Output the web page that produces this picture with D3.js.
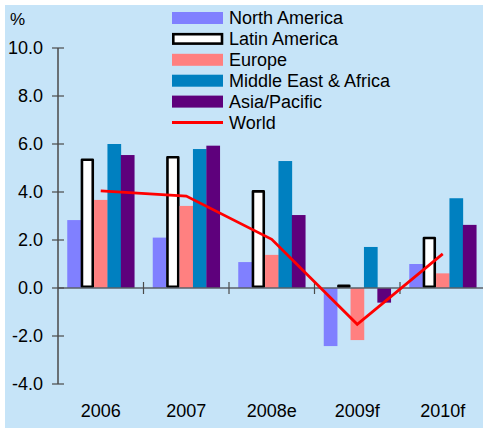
<!DOCTYPE html>
<html>
<head>
<meta charset="utf-8">
<script src="https://cdn.jsdelivr.net/npm/d3@7"></script>
<style>
  html, body { margin: 0; padding: 0; background: #ffffff; }
  svg { display: block; font-family: "Liberation Sans", Arial, Helvetica, sans-serif; }
</style>
</head>
<body>
<svg id="chart" width="483" height="428"></svg>
<script>
// Real GDP growth by region, %
const years = ["2006", "2007", "2008e", "2009f", "2010f"];
const regions = ["North America", "Latin America", "Europe", "Middle East & Africa", "Asia/Pacific"];
const northAmerica = [2.83, 2.1, 1.08, -2.42, 1.0];
const latinAmerica = [5.4, 5.5, 4.08, 0.15, 2.14];
const europe = [3.67, 3.42, 1.38, -2.17, 0.61];
const middleEastAfrica = [6.0, 5.79, 5.29, 1.71, 3.74];
const asiaPacific = [5.54, 5.93, 3.04, -0.61, 2.63];
const world = [4.05, 3.83, 2.03, -1.51, 1.42];
const yTicks = [-4, -2, 0, 2, 4, 6, 8, 10];

const seriesValues = [northAmerica, latinAmerica, europe, middleEastAfrica, asiaPacific];
const colors = ["#8080ff", "#ffffff", "#ff8080", "#0080c0", "#5e007c"];

const svg = d3.select("#chart");

// panel background
svg.append("rect").attr("x", 5).attr("y", 5).attr("width", 478).attr("height", 423)
  .attr("fill", "#c6e4f8");

const x0 = d3.scaleBand().domain(years).range([58, 485.5]).paddingInner(0).paddingOuter(0);
const y = d3.scaleLinear().domain([-4, 10]).range([384, 48]);
const groupWidth = 67;
const x1 = d3.scaleBand().domain(regions).range([0, groupWidth]);

// bars
const rows = [];
years.forEach((yr, i) => {
  regions.forEach((r, j) => rows.push({ year: yr, region: r, j: j, v: seriesValues[j][i] }));
});

const bars = svg.append("g");
bars.selectAll("rect").data(rows).enter().append("rect")
  .each(function (d) {
    const gx = x0(d.year) + (x0.bandwidth() - groupWidth) / 2 + x1(d.region);
    const top = y(Math.max(0, d.v));
    const h = Math.abs(y(d.v) - y(0));
    const sel = d3.select(this);
    if (d.j === 1) {
      const sw = 2.6;
      sel.attr("x", gx + sw / 2).attr("y", top + sw / 2)
        .attr("width", x1.bandwidth() - sw).attr("height", Math.max(0.1, h - sw))
        .attr("fill", "#ffffff").attr("stroke", "#000000").attr("stroke-width", sw)
        .attr("stroke-linejoin", "round");
    } else {
      sel.attr("x", gx).attr("y", top).attr("width", x1.bandwidth() + 0.3).attr("height", h)
        .attr("fill", colors[d.j]);
    }
  });

// axes
const axisColor = "#4a4a4a";
const ax = svg.append("g");
ax.append("line").attr("x1", 58).attr("x2", 483).attr("y1", y(0)).attr("y2", y(0))
  .attr("stroke", "#5a6068").attr("stroke-width", 1.5);
ax.append("line").attr("x1", 58).attr("x2", 58).attr("y1", y(10)).attr("y2", y(-4))
  .attr("stroke", axisColor).attr("stroke-width", 1.5);

ax.selectAll(".yt").data(yTicks).enter().append("line")
  .attr("x1", 52).attr("x2", 64).attr("y1", d => y(d)).attr("y2", d => y(d))
  .attr("stroke", axisColor).attr("stroke-width", 1.2);
ax.selectAll(".yl").data(yTicks).enter().append("text")
  .attr("x", 43).attr("y", d => y(d)).attr("dy", "0.36em")
  .attr("text-anchor", "end").attr("font-size", 18).attr("fill", "#000")
  .text(d => d.toFixed(1));

// category boundary ticks
ax.selectAll(".xt").data(years.slice(1)).enter().append("line")
  .attr("x1", d => x0(d)).attr("x2", d => x0(d))
  .attr("y1", y(0) - 6).attr("y2", y(0) + 6)
  .attr("stroke", axisColor).attr("stroke-width", 1.2);
ax.selectAll(".xl").data(years).enter().append("text")
  .attr("x", d => x0(d) + x0.bandwidth() / 2).attr("y", 417)
  .attr("text-anchor", "middle").attr("font-size", 18).attr("fill", "#000")
  .text(d => d);

svg.append("text").attr("x", 10).attr("y", 25).attr("font-size", 17).text("%");

// world line
const line = d3.line().x((d, i) => x0(years[i]) + x0.bandwidth() / 2).y(d => y(d));
svg.append("path").datum(world).attr("d", line)
  .attr("fill", "none").attr("stroke", "#ff0000").attr("stroke-width", 2.8);

// legend
const legendItems = regions.concat(["World"]);
const lg = svg.append("g");
legendItems.forEach((name, i) => {
  const cy = 18 + i * 20.9;
  if (i === 5) {
    lg.append("line").attr("x1", 172).attr("x2", 223).attr("y1", cy).attr("y2", cy)
      .attr("stroke", "#ff0000").attr("stroke-width", 2.8);
  } else if (i === 1) {
    lg.append("rect").attr("x", 173.3).attr("y", cy - 4.7).attr("width", 48.7).attr("height", 9.4)
      .attr("fill", "#ffffff").attr("stroke", "#000").attr("stroke-width", 2.6);
  } else {
    lg.append("rect").attr("x", 172).attr("y", cy - 6).attr("width", 51).attr("height", 12)
      .attr("fill", colors[i]);
  }
  lg.append("text").attr("x", 229).attr("y", cy).attr("dy", "0.36em")
    .attr("font-size", 18).attr("fill", "#000").text(name);
});
</script>
</body>
</html>
